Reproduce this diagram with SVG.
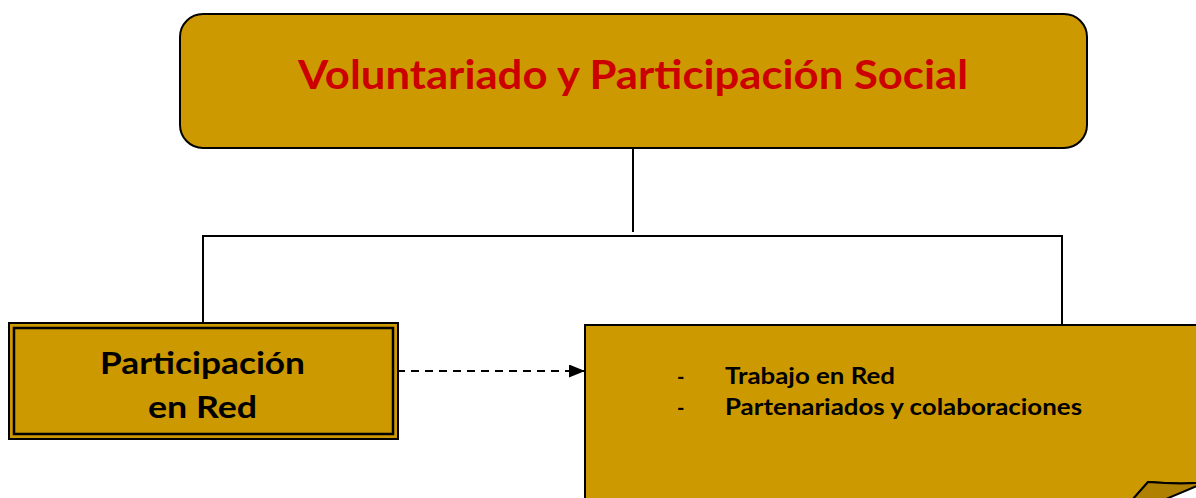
<svg xmlns="http://www.w3.org/2000/svg" width="1196" height="498" viewBox="0 0 1196 498">
<style>
.box{fill:#CC9900;stroke:#000;stroke-width:2}
.ln{stroke:#000;stroke-width:2;fill:none}
.t{font-family:Lato,"Liberation Sans",sans-serif;font-weight:bold;fill:#000}
</style>
<defs>
<marker id="ah" markerWidth="16" markerHeight="13" refX="16" refY="6.5" orient="auto" markerUnits="userSpaceOnUse">
<path d="M0,0 L16,6.5 L0,13 Z" fill="#000"/>
</marker>
</defs>
<rect width="1196" height="498" fill="#fff"/>
<g id="connectors">
<line class="ln" x1="633" y1="148" x2="633" y2="232"/>
<polyline class="ln" points="203,323 203,236 1062,236 1062,325"/>
<line class="ln" x1="397" y1="371" x2="585" y2="371" stroke-dasharray="8,6" marker-end="url(#ah)"/>
</g>
<g id="n-title">
<rect class="box" x="180" y="14" width="907" height="134" rx="23"/>
<text x="298" y="89" textLength="670" lengthAdjust="spacingAndGlyphs" font-family="Lato,'Liberation Sans',sans-serif" font-weight="bold" font-size="41" fill="#CC0000">Voluntariado y Participación Social</text>
</g>
<g id="n-red">
<rect x="9" y="323" width="389" height="116" fill="#CC9900" stroke="#000" stroke-width="2"/>
<rect x="14" y="328" width="379" height="106" fill="none" stroke="#000" stroke-width="2.5"/>
<text class="t" x="100" y="374" textLength="205" lengthAdjust="spacingAndGlyphs" font-size="31">Participación</text>
<text class="t" x="148" y="418" textLength="109" lengthAdjust="spacingAndGlyphs" font-size="31">en Red</text>
</g>
<g id="n-list">
<path d="M585,325 L1197,325 L1197,483 C1180,484 1160,483 1148,482 L1133,499 L585,499 Z" fill="#CC9900" stroke="#000" stroke-width="2"/>
<path d="M1148,482 C1160,483 1180,484 1197,483 L1197,486 L1166,499 L1133,499 Z" fill="#B08000" stroke="#000" stroke-width="2" stroke-linejoin="round"/>
<text class="t" x="677" y="384" font-size="20" font-weight="normal">-</text>
<text class="t" x="725" y="384" textLength="170" lengthAdjust="spacingAndGlyphs" font-size="22">Trabajo en Red</text>
<text class="t" x="677" y="415" font-size="20" font-weight="normal">-</text>
<text class="t" x="725" y="415" textLength="357" lengthAdjust="spacingAndGlyphs" font-size="22">Partenariados y colaboraciones</text>
</g>
</svg>
